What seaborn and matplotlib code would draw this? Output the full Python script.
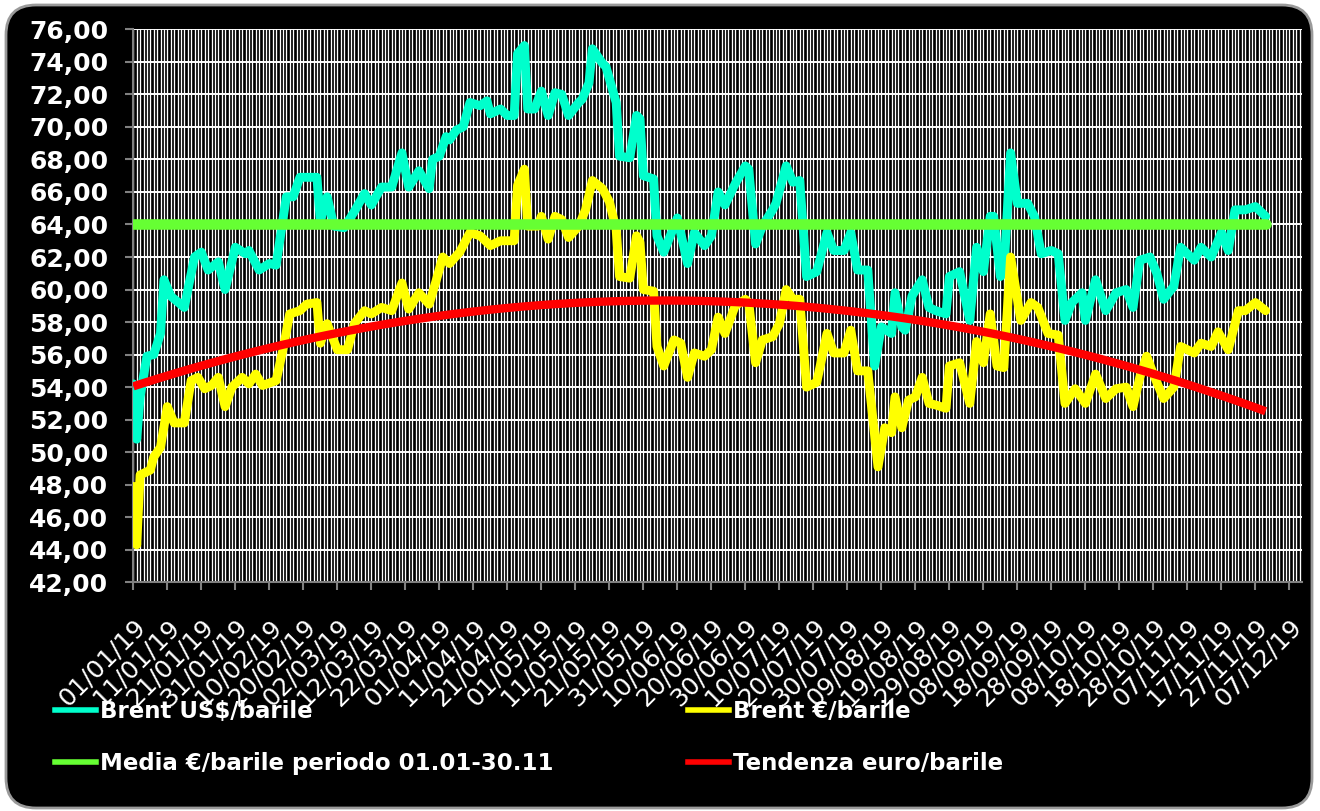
import numpy as np
import pandas as pd
import matplotlib
matplotlib.use("Agg")
import matplotlib.pyplot as plt
from matplotlib.patches import FancyBboxPatch
from matplotlib.lines import Line2D
from matplotlib.ticker import MultipleLocator, FixedLocator, FuncFormatter
import seaborn as sns

# ---------------- data (day 0 = 01/01/2019) ----------------
usd_day = [0, 1, 2, 4, 6, 8, 9, 11, 15, 18, 20, 22, 25, 27, 30, 33, 34, 37, 40, 42,
           45, 47, 49, 54, 55, 57, 59, 62, 65, 68, 70, 73, 76, 79, 81, 84, 87, 88, 90, 92,
           93, 95, 97, 99, 102, 104, 105, 108, 110, 112, 113, 115, 116, 118, 120, 122, 124, 126, 128, 131,
           132, 134, 135, 138, 139, 142, 143, 146, 148, 149, 150, 153, 154, 156, 160, 163, 165, 168, 170, 172,
           174, 177, 180, 181, 183, 185, 188, 189, 192, 194, 196, 198, 201, 204, 206, 209, 211, 213, 216, 218,
           220, 223, 224, 226, 227, 229, 232, 234, 236, 239, 240, 243, 246, 248, 250, 252, 253, 255, 256, 258,
           260, 263, 265, 267, 270, 272, 274, 276, 279, 280, 283, 286, 289, 292, 294, 296, 299, 301, 303, 306,
           308, 312, 314, 317, 320, 322, 324, 327, 330, 333]
usd_val = [54.2, 50.8, 53.4, 55.9, 56.0, 57.3, 60.6, 59.6, 58.9, 62.0, 62.3, 61.2, 61.7, 60.0, 62.6, 62.2, 62.4, 61.2, 61.6, 61.5,
           65.7, 65.7, 66.9, 66.9, 64.2, 65.7, 63.9, 63.8, 64.8, 65.9, 65.2, 66.3, 66.3, 68.4, 66.3, 67.3, 66.2, 68.0, 68.2, 69.4,
           69.2, 69.8, 70.0, 71.5, 71.3, 71.6, 70.8, 71.1, 70.7, 70.7, 74.5, 75.0, 71.1, 71.1, 72.2, 70.7, 72.1, 72.0, 70.7, 71.5,
           71.7, 72.7, 74.8, 73.9, 73.7, 71.5, 68.2, 68.1, 70.7, 70.5, 67.0, 66.8, 63.3, 62.3, 64.4, 61.6, 63.5, 62.7, 63.3, 66.0,
           65.2, 66.5, 67.6, 67.4, 62.8, 63.9, 64.9, 65.3, 67.6, 66.6, 66.7, 60.8, 61.1, 63.5, 62.4, 62.4, 63.5, 61.2, 61.2, 55.3,
           57.7, 57.3, 59.8, 57.7, 57.5, 59.6, 60.6, 58.9, 58.7, 58.5, 60.8, 61.1, 58.1, 62.6, 61.1, 64.5, 64.5, 60.8, 61.0, 68.4,
           65.3, 65.3, 64.5, 62.2, 62.4, 62.2, 58.1, 59.2, 59.8, 58.1, 60.6, 58.7, 59.8, 60.0, 58.9, 61.8, 62.0, 61.0, 59.4, 60.2,
           62.6, 61.8, 62.6, 62.0, 63.5, 62.4, 64.9, 64.9, 65.1, 64.5]

eur_day = [0, 1, 2, 5, 6, 8, 10, 12, 15, 17, 19, 21, 23, 25, 27, 29, 32, 34, 36, 38,
           42, 44, 46, 49, 51, 54, 55, 57, 60, 63, 65, 68, 70, 73, 76, 79, 81, 84, 87, 89,
           91, 93, 96, 99, 102, 105, 108, 112, 113, 115, 116, 119, 120, 122, 124, 126, 128, 131, 133, 135,
           138, 140, 142, 143, 146, 148, 149, 150, 153, 154, 156, 159, 161, 163, 165, 168, 170, 172, 174, 177,
           180, 181, 183, 185, 188, 190, 192, 194, 196, 198, 201, 204, 206, 209, 211, 213, 216, 219, 221, 223,
           224, 226, 228, 230, 232, 234, 236, 239, 240, 243, 246, 248, 250, 252, 254, 256, 258, 261, 264, 266,
           269, 272, 274, 277, 280, 283, 286, 289, 292, 294, 296, 298, 300, 303, 306, 308, 312, 314, 317, 319,
           322, 325, 327, 330, 333]
eur_val = [47.9, 44.3, 48.6, 48.9, 49.7, 50.3, 52.8, 51.8, 51.8, 54.4, 54.6, 53.9, 54.1, 54.6, 52.8, 54.0, 54.6, 54.2, 54.8, 54.1,
           54.4, 56.3, 58.5, 58.7, 59.1, 59.2, 56.7, 57.9, 56.3, 56.3, 57.9, 58.7, 58.5, 58.9, 58.7, 60.4, 58.8, 59.8, 59.1, 60.5,
           62.0, 61.6, 62.3, 63.5, 63.3, 62.7, 63.0, 63.0, 66.4, 67.4, 63.9, 63.9, 64.5, 63.1, 64.5, 64.3, 63.2, 63.9, 64.9, 66.7,
           66.2, 65.4, 63.7, 60.8, 60.7, 63.3, 62.9, 60.0, 59.9, 56.5, 55.3, 56.9, 56.7, 54.6, 56.1, 55.9, 56.3, 58.3, 57.3, 59.0,
           59.4, 59.2, 55.5, 56.9, 57.1, 57.9, 60.0, 59.4, 59.4, 54.0, 54.3, 57.3, 56.1, 56.1, 57.5, 55.0, 55.0, 49.1, 51.5, 51.2,
           53.4, 51.5, 53.2, 53.4, 54.6, 53.0, 52.9, 52.7, 55.3, 55.5, 53.0, 56.8, 55.5, 58.5, 55.3, 55.2, 62.0, 58.1, 59.2, 58.9,
           57.3, 57.2, 53.0, 53.9, 53.0, 54.8, 53.3, 53.9, 54.0, 52.8, 54.6, 55.9, 54.8, 53.3, 54.0, 56.5, 56.1, 56.7, 56.5, 57.4,
           56.3, 58.7, 58.7, 59.2, 58.7]

media_day = [0, 333]          # periodo 01.01 - 30.11
media_val = [64.0, 64.0]

# polynomial trend (euro/barile)
trend_day = [0, 17, 37, 56, 76, 85, 114, 143, 172, 200, 230, 259, 284, 314, 333]
trend_val = [53.9, 55.05, 56.3, 57.4, 58.1, 58.3, 58.8, 59.2, 59.2, 58.85, 58.2, 57.1, 55.6, 53.9, 52.6]

tick_labels = ["01/01/19", "11/01/19", "21/01/19", "31/01/19", "10/02/19", "20/02/19", "02/03/19",
               "12/03/19", "22/03/19", "01/04/19", "11/04/19", "21/04/19", "01/05/19", "11/05/19",
               "21/05/19", "31/05/19", "10/06/19", "20/06/19", "30/06/19", "10/07/19", "20/07/19",
               "30/07/19", "09/08/19", "19/08/19", "29/08/19", "08/09/19", "18/09/19", "28/09/19",
               "08/10/19", "18/10/19", "28/10/19", "07/11/19", "17/11/19", "27/11/19", "07/12/19"]
tick_days = [10 * i for i in range(len(tick_labels))]

labels = ["Brent US$/barile", "Brent \u20ac/barile",
          "Media \u20ac/barile periodo 01.01-30.11", "Tendenza euro/barile"]
c_usd, c_eur, c_media, c_trend = "#00FFCC", "#FFFF00", "#66FF33", "#FF0000"

# ---------------- figure ----------------
W, H = 1320, 811
fig = plt.figure(figsize=(W / 100, H / 100), dpi=100, facecolor="white")

frame = FancyBboxPatch((0.06, 0.03), 13.06, 8.03,
                       boxstyle="round,pad=0,rounding_size=0.3",
                       transform=fig.dpi_scale_trans, facecolor="black",
                       edgecolor="#9a9a9a", linewidth=2.0, zorder=-10)
fig.patches.append(frame)

left, right, top, bottom = 133.3, 1302.0, 29.3, 582.3
ax = fig.add_axes([left / W, 1 - bottom / H, (right - left) / W, (bottom - top) / H])
ax.set_zorder(1)
ax.set_facecolor("black")

lw = 6.4
sns.lineplot(x=usd_day, y=usd_val, ax=ax, color=c_usd, lw=lw, estimator=None,
             solid_joinstyle="round", solid_capstyle="round", zorder=3)
sns.lineplot(x=eur_day, y=eur_val, ax=ax, color=c_eur, lw=lw, estimator=None,
             solid_joinstyle="round", solid_capstyle="round", zorder=4)
sns.lineplot(x=media_day, y=media_val, ax=ax, color=c_media, lw=7.6, estimator=None,
             solid_capstyle="round", zorder=5)
sns.regplot(x=np.array(trend_day), y=np.array(trend_val), ax=ax, order=2, scatter=False,
            ci=None, truncate=True, color=c_trend,
            line_kws=dict(lw=6.0, solid_capstyle="butt", zorder=6))

ax.set_xlim(0, 343.7)
ax.set_ylim(42, 76)
ax.set_xlabel("")
ax.set_ylabel("")

ax.xaxis.set_major_locator(FixedLocator(tick_days))
ax.xaxis.set_minor_locator(MultipleLocator(1))
ax.set_xticklabels(tick_labels)
ax.yaxis.set_major_locator(MultipleLocator(2))
ax.yaxis.set_major_formatter(FuncFormatter(lambda v, p: f"{v:.2f}".replace(".", ",")))

ax.set_axisbelow(True)
ax.grid(which="both", axis="x", color="white", lw=0.95)
ax.grid(which="major", axis="y", color="white", lw=1.4)

for s in ["top", "right"]:
    ax.spines[s].set_visible(False)
for s in ["left", "bottom"]:
    ax.spines[s].set_color("#808080")
    ax.spines[s].set_linewidth(1.5)

ax.tick_params(axis="x", which="major", length=6, width=1.5, color="#808080",
               labelcolor="white", labelsize=18, pad=17)
ax.tick_params(axis="x", which="minor", length=0)
ax.tick_params(axis="y", which="major", length=6, width=1.5, color="#808080",
               labelcolor="white", labelsize=18, pad=12)
for t in ax.get_xticklabels():
    t.set_rotation(45)
    t.set_ha("right")
    t.set_va("top")
    t.set_rotation_mode("anchor")
for t in ax.get_yticklabels():
    t.set_fontweight("bold")

# ---------------- legend ----------------
h_usd = Line2D([], [], color=c_usd, lw=4)
h_eur = Line2D([], [], color=c_eur, lw=4)
h_med = Line2D([], [], color=c_media, lw=4)
h_trd = Line2D([], [], color=c_trend, lw=4)
leg_kw = dict(loc="upper left", frameon=False, ncol=1, borderpad=0, borderaxespad=0,
              handlelength=1.8, handletextpad=0.15, labelspacing=1.28,
              prop=dict(family="DejaVu Sans", weight="bold", size=16.5), labelcolor="white")
fig.legend([h_usd, h_med], [labels[0], labels[2]], bbox_to_anchor=(55 / W, 1 - 700 / H), **leg_kw)
fig.legend([h_eur, h_trd], [labels[1], labels[3]], bbox_to_anchor=(688 / W, 1 - 700 / H), **leg_kw)

fig.savefig("out.png", dpi=100, facecolor="white")
